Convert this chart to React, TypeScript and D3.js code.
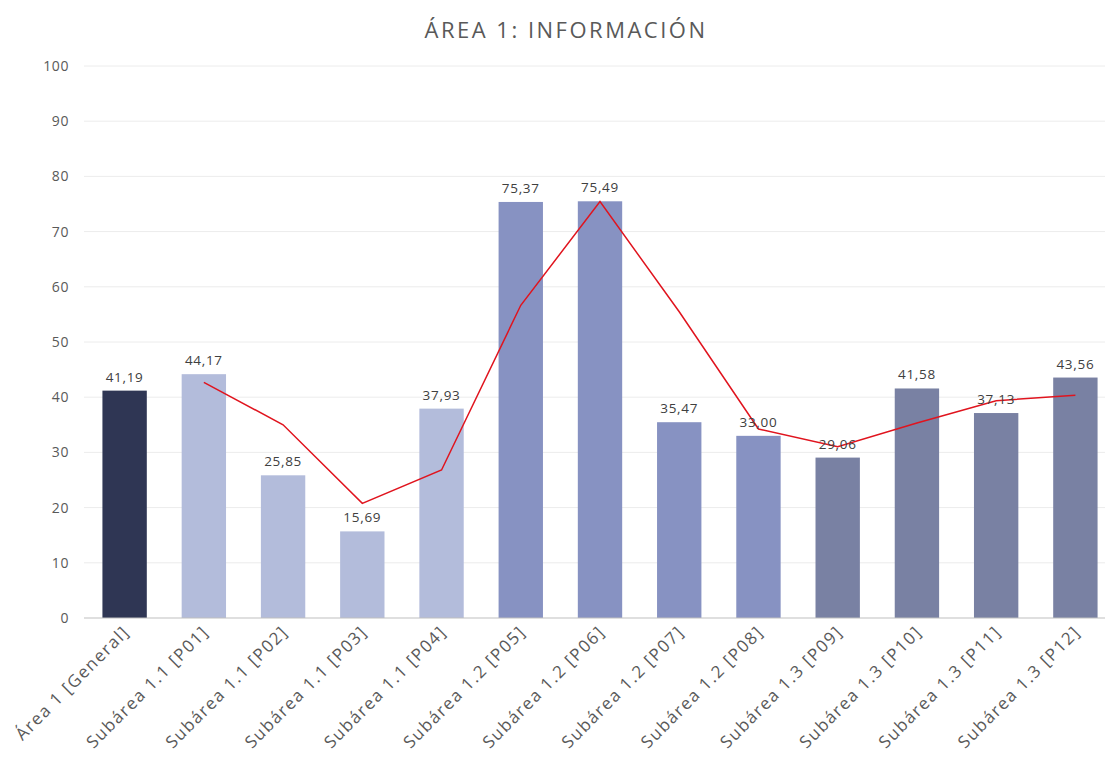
import { useEffect, useRef } from "react"
import * as d3 from "d3"

const categories = [
    "Área 1 [General]",
    "Subárea 1.1 [P01]",
    "Subárea 1.1 [P02]",
    "Subárea 1.1 [P03]",
    "Subárea 1.1 [P04]",
    "Subárea 1.2 [P05]",
    "Subárea 1.2 [P06]",
    "Subárea 1.2 [P07]",
    "Subárea 1.2 [P08]",
    "Subárea 1.3 [P09]",
    "Subárea 1.3 [P10]",
    "Subárea 1.3 [P11]",
    "Subárea 1.3 [P12]",
]
const values = [41.19, 44.17, 25.85, 15.69, 37.93, 75.37, 75.49, 35.47, 33.0, 29.06, 41.58, 37.13, 43.56]
const barColors = [
    "#2f3654",
    "#b3bcdb", "#b3bcdb", "#b3bcdb", "#b3bcdb",
    "#8792c2", "#8792c2", "#8792c2", "#8792c2",
    "#7981a3", "#7981a3", "#7981a3", "#7981a3",
]
// red trend line (starts at P01)
const trendCats = categories.slice(1)
const trendValues = [42.68, 35.01, 20.77, 26.81, 56.65, 75.43, 55.48, 34.24, 31.03, 35.32, 39.36, 40.35]
const yTicks = [0, 10, 20, 30, 40, 50, 60, 70, 80, 90, 100]

const FONT = "'Open Sans', 'Liberation Sans', sans-serif"

export default function App() {
    const svgRef = useRef(null)

    useEffect(() => {
        const width = 1105
        const height = 758
        const svg = d3.select(svgRef.current)
        svg.selectAll("*").remove()
        svg.attr("width", width).attr("height", height)

        const x = d3.scaleBand().domain(categories).range([85, 1115]).paddingInner(0.44).paddingOuter(0.22)
        const y = d3.scaleLinear().domain([0, 100]).range([618, 66])

        svg
            .append("text")
            .attr("x", 566)
            .attr("y", 38)
            .attr("text-anchor", "middle")
            .attr("font-family", FONT)
            .attr("font-size", 22)
            .attr("letter-spacing", 2.5)
            .attr("fill", "#595959")
            .text("ÁREA 1: INFORMACIÓN")

        // gridlines
        svg
            .append("g")
            .selectAll("line")
            .data(yTicks.filter((d) => d > 0))
            .enter()
            .append("line")
            .attr("x1", 84)
            .attr("x2", width)
            .attr("y1", (d) => y(d))
            .attr("y2", (d) => y(d))
            .attr("stroke", "#ececec")
            .attr("stroke-width", 1)

        svg
            .append("g")
            .selectAll("text")
            .data(yTicks)
            .enter()
            .append("text")
            .attr("x", 69)
            .attr("y", (d) => y(d) + 5)
            .attr("text-anchor", "end")
            .attr("font-family", FONT)
            .attr("font-size", 14)
            .attr("letter-spacing", 0.6)
            .attr("fill", "#595959")
            .text((d) => d)

        svg
            .selectAll(".bar")
            .data(values)
            .enter()
            .append("rect")
            .attr("x", (d, i) => x(categories[i]))
            .attr("y", (d) => y(d))
            .attr("width", x.bandwidth())
            .attr("height", (d) => y(0) - y(d))
            .attr("fill", (d, i) => barColors[i])

        svg
            .append("line")
            .attr("x1", 84)
            .attr("x2", width)
            .attr("y1", y(0))
            .attr("y2", y(0))
            .attr("stroke", "#bfbfbf")
            .attr("stroke-width", 1)

        const line = d3
            .line()
            .x((d, i) => x(trendCats[i]) + x.bandwidth() / 2)
            .y((d) => y(d))
        svg
            .append("path")
            .datum(trendValues)
            .attr("d", line)
            .attr("fill", "none")
            .attr("stroke", "#e0141e")
            .attr("stroke-width", 1.5)

        svg
            .append("g")
            .selectAll("text")
            .data(values)
            .enter()
            .append("text")
            .attr("x", (d, i) => x(categories[i]) + x.bandwidth() / 2)
            .attr("y", (d) => y(d) - 9)
            .attr("text-anchor", "middle")
            .attr("font-family", FONT)
            .attr("font-size", 13.5)
            .attr("letter-spacing", 0.7)
            .attr("fill", "#404040")
            .text((d) => d.toFixed(2).replace(".", ","))

        svg
            .append("g")
            .selectAll("text")
            .data(categories)
            .enter()
            .append("text")
            .attr("transform", (d) => `translate(${x(d) + x.bandwidth() / 2 + 6},${y(0) + 15}) rotate(-45)`)
            .attr("text-anchor", "end")
            .attr("font-family", FONT)
            .attr("font-size", 17)
            .attr("letter-spacing", 1.5)
            .attr("fill", "#595959")
            .text((d) => d)
    }, [])

    return (
        <div style={{ position: "absolute", left: 0, top: 0 }}>
            <svg ref={svgRef} style={{ display: "block" }}></svg>
        </div>
    )
}
